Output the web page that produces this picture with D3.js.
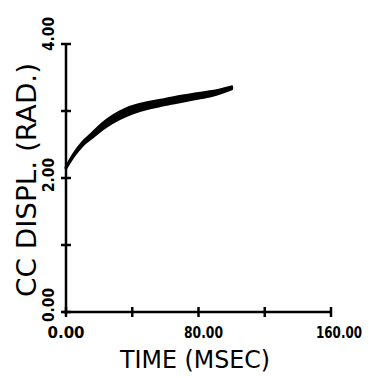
<!DOCTYPE html>
<html>
<head>
<meta charset="utf-8">
<script src="https://cdn.jsdelivr.net/npm/d3@7"></script>
<style>
  body { margin: 0; background: #fff; }
  text { fill: #000; font-family: "DejaVu Sans Condensed", "DejaVu Sans", sans-serif; }
</style>
</head>
<body>
<script>
//curve data (time in msec, displacement in rad)
var times = [0, 5, 10, 16, 22, 28, 37, 45, 57, 67, 77, 88, 100];
var upper = [2.16, 2.37, 2.53, 2.67, 2.81, 2.92, 3.04, 3.10, 3.16, 3.21, 3.25, 3.29, 3.36];
var lower = [2.15, 2.34, 2.49, 2.61, 2.73, 2.83, 2.94, 3.01, 3.08, 3.13, 3.18, 3.23, 3.33];

var xTicks = [0, 40, 80, 120, 160];
var xLabels = [0, 80, 160];
var yTicks = [0, 1, 2, 3, 4];
var yLabels = [0, 2, 4];

var width = 371,
    height = 377;

var svg = d3.select("body")
    .append("svg")
    .attr("width", width)
    .attr("height", height);

var x = d3.scaleLinear().domain([0, 160]).range([66, 331]);
var y = d3.scaleLinear().domain([0, 4]).range([312, 44]);

//axes lines
svg.append("line")
    .attr("x1", x(0) - 3).attr("x2", x(160))
    .attr("y1", y(0)).attr("y2", y(0))
    .attr("stroke", "#000").attr("stroke-width", 2.5);
svg.append("line")
    .attr("x1", x(0)).attr("x2", x(0))
    .attr("y1", y(0) + 2).attr("y2", y(4))
    .attr("stroke", "#000").attr("stroke-width", 2.5);

//tick marks
svg.selectAll(".xtick")
    .data(xTicks)
    .enter()
    .append("line")
    .attr("class", "xtick")
    .attr("x1", function(d){ return x(d); })
    .attr("x2", function(d){ return x(d); })
    .attr("y1", y(0) - 5).attr("y2", y(0) + 5)
    .attr("stroke", "#000").attr("stroke-width", 2.5);

svg.selectAll(".ytick")
    .data(yTicks)
    .enter()
    .append("line")
    .attr("class", "ytick")
    .attr("y1", function(d){ return y(d); })
    .attr("y2", function(d){ return y(d); })
    .attr("x1", x(0) - 5).attr("x2", x(0) + 5)
    .attr("stroke", "#000").attr("stroke-width", 2.5);

//tick labels
svg.selectAll(".xlab")
    .data(xLabels)
    .enter()
    .append("text")
    .attr("class", "xlab")
    .attr("x", function(d){ return x(d) + (d == 0 ? 0 : d == 80 ? 5 : 8); })
    .attr("y", 338)
    .attr("text-anchor", "middle")
    .attr("font-size", 15)
    .attr("font-weight", "bold")
    .attr("textLength", function(d){ return d == 160 ? 46 : d == 80 ? 39 : 37; })
    .attr("lengthAdjust", "spacingAndGlyphs")
    .text(function(d){ return d3.format(".2f")(d); });

svg.selectAll(".ylab")
    .data(yLabels)
    .enter()
    .append("text")
    .attr("class", "ylab")
    .attr("transform", function(d){
        var off = d == 4 ? -10 : d == 2 ? -3 : -7;
        return "translate(54," + (y(d) + off) + ") rotate(-90)";
    })
    .attr("text-anchor", "middle")
    .attr("font-size", 16)
    .attr("font-weight", "bold")
    .attr("textLength", 34)
    .attr("lengthAdjust", "spacingAndGlyphs")
    .text(function(d){ return d3.format(".2f")(d); });

//axis titles
svg.append("text")
    .attr("x", 195).attr("y", 368)
    .attr("text-anchor", "middle")
    .attr("font-size", 25)
    .attr("textLength", 150)
    .attr("lengthAdjust", "spacingAndGlyphs")
    .text("TIME (MSEC)");

svg.append("text")
    .attr("transform", "translate(36,180) rotate(-90)")
    .attr("text-anchor", "middle")
    .attr("font-size", 27)
    .attr("textLength", 234)
    .attr("lengthAdjust", "spacingAndGlyphs")
    .text("CC DISPL. (RAD.)");

//the response curve, drawn as a band
var band = d3.area()
    .x(function(d, i){ return x(times[i]); })
    .y0(function(d, i){ return y(lower[i]); })
    .y1(function(d, i){ return y(upper[i]); })
    .curve(d3.curveMonotoneX);

svg.append("path")
    .datum(times)
    .attr("d", band)
    .attr("fill", "#000")
    .attr("stroke", "#000")
    .attr("stroke-width", 3)
    .attr("stroke-linejoin", "round");
</script>
</body>
</html>
